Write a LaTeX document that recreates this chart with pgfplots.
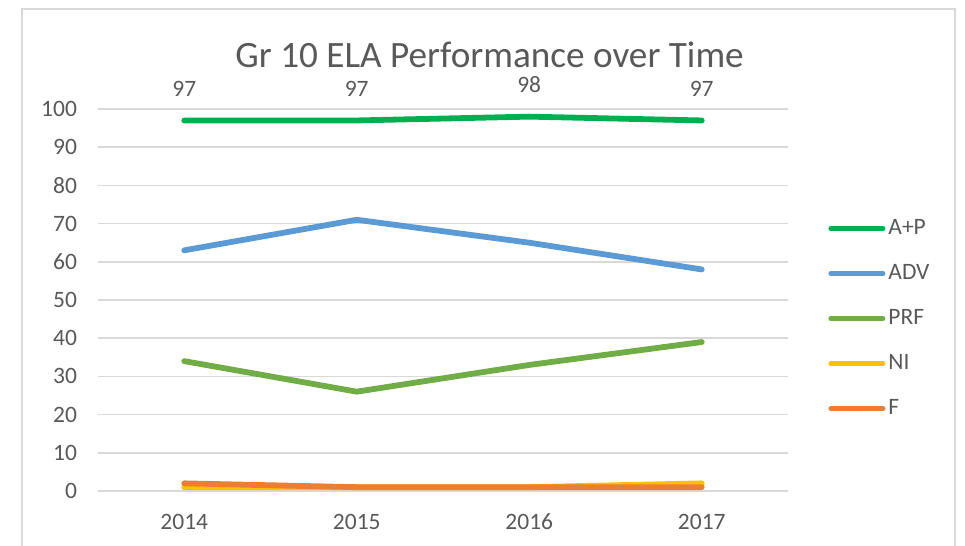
\documentclass[border=0pt]{standalone}
\usepackage{pgfplots}
\pgfplotsset{compat=1.18}
\usepackage{fontspec}
\setmainfont{Carlito}
\definecolor{txt}{HTML}{595959}
\definecolor{gridc}{HTML}{D9D9D9}
\definecolor{cAP}{HTML}{00B050}
\definecolor{cADV}{HTML}{5B9BD5}
\definecolor{cPRF}{HTML}{70AD47}
\definecolor{cNI}{HTML}{FFC000}
\definecolor{cF}{HTML}{ED7D31}
\begin{document}
\begin{tikzpicture}
\useasboundingbox (-49pt,-27.5pt) rectangle (433.5pt,245.5pt);
\draw[gridc, line width=0.6pt] (-38pt,-40pt) -- (-38pt,241pt) -- (428.5pt,241pt) -- (428.5pt,-40pt);
\begin{axis}[
  at={(0pt,0pt)}, anchor=south west,
  scale only axis, width=345pt, height=191pt,
  xmin=-0.5, xmax=3.5, ymin=0, ymax=100,
  xtick={0,1,2,3}, xticklabels={2014,2015,2016,2017},
  ytick={0,10,...,100},
  axis line style={draw=none},
  major tick length=0pt,
  ymajorgrids, xmajorgrids=false, grid style={gridc, line width=0.75pt},
  tick label style={font=\fontsize{11.75}{14}\selectfont, text=txt},
  /pgf/number format/assume math mode=true,
  yticklabel style={xshift=-7pt},
  xticklabel style={yshift=-8pt},
  clip=false,
  every axis plot/.append style={line width=2.9pt, line cap=round, line join=round, mark=none},
  legend style={at={(1.058,0.691)}, anchor=north west, draw=none, fill=none,
    font=\fontsize{11.75}{14}\selectfont, text=txt, row sep=10.5pt,
    inner sep=0pt, nodes={inner sep=1.5pt}, yshift=5.5pt},
  legend cell align=left,
  legend image code/.code={\draw[#1, line width=2.5pt, line cap=round] (0pt,0pt) -- (26pt,0pt);},
]
\addplot[cAP, nodes near coords, point meta=explicit symbolic,
  every node near coord/.append style={font=\fontsize{11.75}{14}\selectfont, text=txt, anchor=center, yshift=16pt}]
  coordinates {(0,97)[97] (1,97)[97] (2,98)[98] (3,97)[97]};
\addlegendentry{A+P}
\addplot[cADV] coordinates {(0,63) (1,71) (2,65) (3,58)};
\addlegendentry{ADV}
\addplot[cPRF] coordinates {(0,34) (1,26) (2,33) (3,39)};
\addlegendentry{PRF}
\addplot[cNI] coordinates {(0,1) (1,1) (2,1) (3,2)};
\addlegendentry{NI}
\addplot[cF] coordinates {(0,2) (1,1) (2,1) (3,1)};
\addlegendentry{F}
\node[font=\fontsize{18.6}{22}\selectfont, text=txt, anchor=base] at (axis cs:1.77,100) [yshift=20.5pt] {Gr 10 ELA Performance over Time};
\end{axis}
\end{tikzpicture}
\end{document}
